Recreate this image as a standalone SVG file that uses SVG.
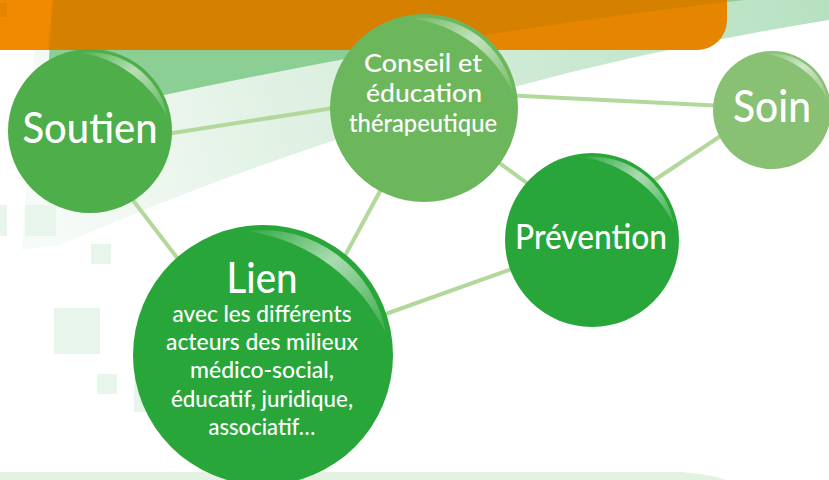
<svg xmlns="http://www.w3.org/2000/svg" width="829" height="480" viewBox="0 0 829 480">
<defs>
<style>
.t{font-family:Lato,"Open Sans","DejaVu Sans",sans-serif;fill:#ffffff;text-anchor:middle;font-weight:500}
.sq{fill:#e8f5ea}
.cn{stroke:#b3d89b;stroke-width:4;stroke-linecap:butt;fill:none}
.hl{fill:url(#hlg)}
</style>
<linearGradient id="hlg" x1="0" y1="0" x2="1" y2="1">
<stop offset="0" stop-color="#fff" stop-opacity="0.05"/>
<stop offset="0.45" stop-color="#fff" stop-opacity="0.6"/>
<stop offset="1" stop-color="#fff" stop-opacity="0.08"/>
</linearGradient>
<linearGradient id="pale" gradientUnits="userSpaceOnUse" x1="40" y1="250" x2="829" y2="0">
<stop offset="0" stop-color="#eaf6ec" stop-opacity="0.4"/>
<stop offset="0.3" stop-color="#e2f2e5"/>
<stop offset="1" stop-color="#b6e1c1"/>
</linearGradient>
<clipPath id="oc"><rect x="-30" y="-30" width="757" height="80" rx="30"/></clipPath>
<path id="hp" d="M -0.117,-0.953 A 0.96 0.96 0 0 1 0.945,-0.167 A 1.4 1.4 0 0 0 -0.117,-0.953 Z"/>
</defs>
<rect width="829" height="480" fill="#ffffff"/>
<g id="background">
<path d="M 60,245 Q 430,84 829,20 L 829,-5 L 38,-5 L 22,250 Z" fill="url(#pale)"/>
<path d="M 45,122 Q 412,35 790,-5 L 53,-5 Z" fill="#8bcf95"/>
<g clip-path="url(#oc)">
<rect x="-30" y="-30" width="757" height="80" fill="#e68600"/>
<path d="M 45,122 Q 412,35 790,-5 L 53,-5 Z" fill="#d68000"/>
<path d="M -5,-5 L 53,-5 L 47,55 L -5,55 Z" fill="#f18a00"/>
<rect x="0" y="3" width="7" height="14" fill="#e48400"/>
</g>
<rect class="sq" x="0" y="205" width="7" height="31"/>
<rect class="sq" x="25" y="205" width="31" height="31"/>
<rect class="sq" x="91" y="244" width="20" height="20"/>
<rect class="sq" x="54" y="308" width="46" height="46"/>
<rect class="sq" x="97" y="374" width="20" height="20"/>
<rect class="sq" x="134" y="377" width="20" height="35"/>
<path d="M 0,472 L 680,472 Q 705,473 726,480 L 0,480 Z" fill="#e3f2e3"/>
</g>
<g id="connectors">
<line class="cn" x1="160" y1="135" x2="340" y2="107"/>
<line class="cn" x1="505" y1="95" x2="725" y2="106"/>
<line class="cn" x1="725" y1="133" x2="650" y2="183"/>
<line class="cn" x1="490" y1="156" x2="535" y2="189"/>
<line class="cn" x1="125" y1="190" x2="185" y2="268"/>
<line class="cn" x1="385" y1="182" x2="340" y2="265"/>
<line class="cn" x1="380" y1="316" x2="520" y2="266"/>
</g>
<g id="node-soutien">
<circle cx="90" cy="131" r="82" fill="#4dae4a"/>
<use href="#hp" class="hl" transform="translate(90,131) scale(82)"/>
<text class="t" x="90" y="143" font-size="42" textLength="135" lengthAdjust="spacingAndGlyphs">Soutien</text>
</g>
<g id="node-conseil">
<circle cx="424" cy="108" r="94" fill="#6cb75c"/>
<use href="#hp" class="hl" transform="translate(424,108) scale(94)"/>
<text class="t" x="423" y="72" font-size="25" textLength="118" lengthAdjust="spacingAndGlyphs">Conseil et</text>
<text class="t" x="424" y="102" font-size="25" textLength="116" lengthAdjust="spacingAndGlyphs">éducation</text>
<text class="t" x="423" y="132" font-size="24" textLength="148" lengthAdjust="spacingAndGlyphs">thérapeutique</text>
</g>
<g id="node-soin">
<circle cx="772" cy="110" r="59" fill="#88c174"/>
<use href="#hp" class="hl" transform="translate(772,110) scale(59)"/>
<text class="t" x="772" y="122" font-size="45" textLength="78" lengthAdjust="spacingAndGlyphs">Soin</text>
</g>
<g id="node-prevention">
<circle cx="592" cy="240" r="87" fill="#29a63a"/>
<use href="#hp" class="hl" transform="translate(592,240) scale(87)"/>
<text class="t" x="591" y="249" font-size="35" textLength="152" lengthAdjust="spacingAndGlyphs">Prévention</text>
</g>
<g id="node-lien">
<circle cx="263" cy="355" r="130" fill="#29a63a"/>
<use href="#hp" class="hl" transform="translate(263,355) scale(130)"/>
<text class="t" x="262" y="293" font-size="43" textLength="71" lengthAdjust="spacingAndGlyphs">Lien</text>
<text class="t" x="262" y="322" font-size="23" textLength="179" lengthAdjust="spacingAndGlyphs">avec les différents</text>
<text class="t" x="262" y="350" font-size="23" textLength="192" lengthAdjust="spacingAndGlyphs">acteurs des milieux</text>
<text class="t" x="262" y="378" font-size="23" textLength="144" lengthAdjust="spacingAndGlyphs">médico-social,</text>
<text class="t" x="262" y="407" font-size="23" textLength="182" lengthAdjust="spacingAndGlyphs">éducatif, juridique,</text>
<text class="t" x="262" y="435" font-size="23" textLength="107" lengthAdjust="spacingAndGlyphs">associatif…</text>
</g>
</svg>
